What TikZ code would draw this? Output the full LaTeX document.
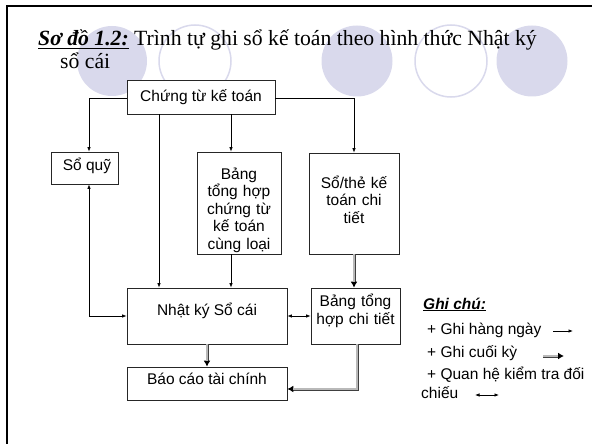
\documentclass[tikz,border=0pt]{standalone}
\usepackage{fontspec}
\setmainfont{Liberation Serif}
\newfontfamily\arialfont{Liberation Sans}
\usetikzlibrary{arrows.meta}
\definecolor{lav}{RGB}{217,217,236}
\newcommand\bxfont{\arialfont\fontsize{15.5}{17.5}\selectfont}
\newcommand\ttlfont{\fontsize{21.7}{24}\selectfont}

\tikzset{
  boxstyle/.style={draw=black!85, line width=0.8pt, fill=white, inner sep=0pt},
  txt/.style={font=\bxfont, align=center, inner sep=0pt, anchor=base},
  lgd/.style={font=\bxfont, inner sep=0pt, anchor=base west},
  flow/.style={line width=0.7pt, -{Latex[length=4.5pt,width=3.5pt]}},
  both/.style={line width=0.7pt, {Latex[length=4.5pt,width=3.5pt]}-{Latex[length=4.5pt,width=3.5pt]}},
  heavy/.style={draw=black!75, line width=3pt,
    -{Latex[length=6pt,width=7pt,color=black]},
    postaction={draw=gray!55, line width=1.3pt, -, shorten >=6pt}},
}

\begin{document}
\begin{tikzpicture}[x=1pt,y=-1pt]
\useasboundingbox (0,0) rectangle (592,444);

% decorative circles behind the title
\fill[lav] (112,61) circle (35pt);
\draw[lav, line width=1.5pt] (195,61) circle (36pt);
\fill[lav] (357,61) circle (35.5pt);
\draw[lav, line width=1.5pt] (451,61) circle (36pt);
\fill[lav] (532,61) circle (35.5pt);

% slide frame
\draw[line width=2pt] (7,444) -- (7,6) -- (592,6);

% title
\node[anchor=base west, inner sep=0pt, font=\ttlfont] (ttl1) at (38,46)
  {{\bfseries\itshape\underline{Sơ đồ 1.2:}} Trình tự ghi sổ kế toán theo hình thức Nhật ký};
\node[anchor=base west, inner sep=0pt, font=\ttlfont] (ttl2) at (60,69) {sổ cái};

% boxes
\node[boxstyle, minimum width=148pt, minimum height=34pt] (ct)  at (201,97) {};
\node[boxstyle, minimum width=67pt,  minimum height=32pt] (sq)  at (84.5,168) {};
\node[boxstyle, minimum width=84pt,  minimum height=102pt] (bth) at (239,203) {};
\node[boxstyle, minimum width=90pt,  minimum height=101pt] (sct) at (354,203.5) {};
\node[boxstyle, minimum width=160pt, minimum height=56pt] (nk)  at (207,316) {};
\node[boxstyle, minimum width=89pt,  minimum height=56pt] (bct) at (355.5,316) {};
\node[boxstyle, minimum width=160pt, minimum height=33pt] (bc)  at (207,383.5) {};

% box texts
\node[txt] (ct-t)  at (201,101) {Chứng từ kế toán};
\node[txt] (sq-t)  at (87,170) {Sổ quỹ};
\node[txt, text width=84pt] (bth-t) at (239,179) {Bảng\\tổng hợp\\chứng từ\\kế toán\\cùng loại};
\node[txt, text width=90pt] (sct-t) at (354,188) {Sổ/thẻ kế\\toán chi\\tiết};
\node[txt] (nk-t)  at (207,315) {Nhật ký Sổ cái};
\node[txt, text width=89pt, font=\arialfont\fontsize{15.5}{18}\selectfont] (bct-t) at (355.5,306) {Bảng tổng\\hợp chi tiết};
\node[txt] (bc-t)  at (207,384) {Báo cáo tài chính};

% column positions of the vertical connectors
\coordinate (xq) at (89,0);
\coordinate (xn) at (159,0);
\coordinate (xb) at (231,0);
\coordinate (xs) at (354,0);
\coordinate (xr) at (357,0);
\coordinate (xc) at (207,0);
\coordinate (yh) at (0,98);
\coordinate (ym) at (0,316);
\coordinate (yl) at (0,389);

% daily entries
\draw[flow] (ct.west |- yh) -| (xq |- sq.north);
\draw[flow] (ct.east |- yh) -| (sct.north);
\draw[flow] (xn |- ct.south) -- (xn |- nk.north);
\draw[flow] (xb |- ct.south) -- (xb |- bth.north);
\draw[flow] (xb |- bth.south) -- (xb |- nk.north);

% cross-checks
\draw[both] (xq |- sq.south) -- (xq |- ym) -- (nk.west |- ym);
\draw[both] (nk.east |- ym) -- (bct.west |- ym);

% period-end entries
\draw[heavy] (xs |- sct.south) -- (xs |- bct.north);
\draw[heavy] (xc |- nk.south) -- (xc |- bc.north);
\draw[heavy] (xr |- bct.south) -- (xr |- yl) -- (bc.east |- yl);

% legend
\node[lgd] (lg0) at (423,309) {\bfseries\itshape\underline{Ghi chú:}};
\node[lgd] (lg1) at (427,334) {+ Ghi hàng ngày};
\node[lgd] (lg2) at (427,357) {+ Ghi cuối kỳ};
\node[lgd] (lg3) at (427,379) {+ Quan hệ kiểm tra đối};
\node[lgd] (lg4) at (421,398) {chiếu};

\coordinate (a1s) at (553,331);
\coordinate (a1e) at (573,331);
\coordinate (a2s) at (543,356);
\coordinate (a2e) at (564,356);
\coordinate (a3s) at (475,395);
\coordinate (a3e) at (499,395);
\draw[flow] (a1s) -- (a1e);
\draw[heavy] (a2s) -- (a2e);
\draw[both] (a3s) -- (a3e);
\end{tikzpicture}
\end{document}
